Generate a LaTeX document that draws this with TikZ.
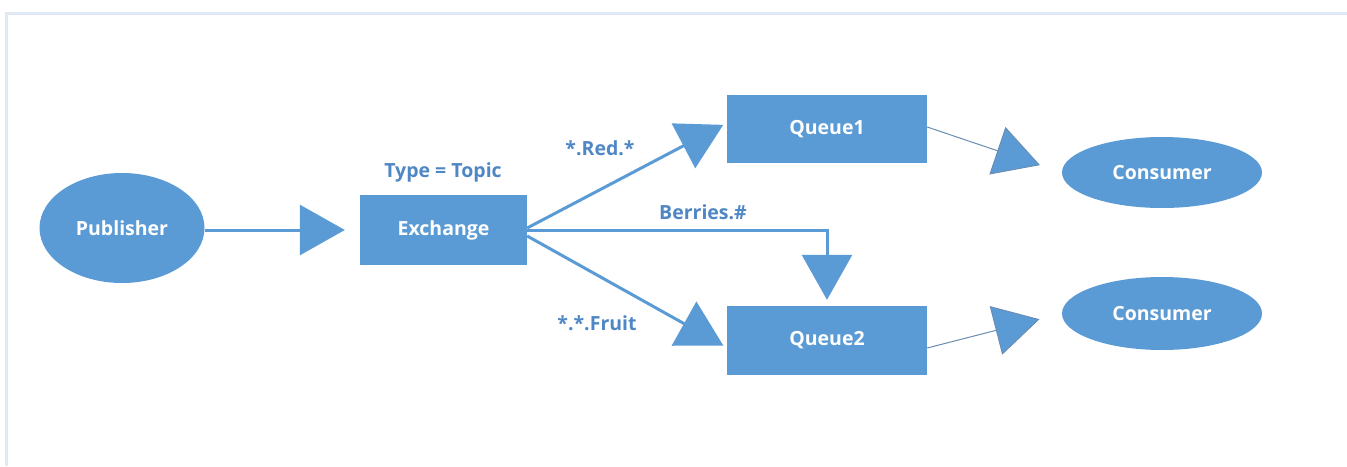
\documentclass[tikz,border=0pt]{standalone}
\usepackage{fontspec}
\setmainfont{Open Sans}
\usetikzlibrary{arrows.meta,shapes.geometric}
\definecolor{boxblue}{HTML}{5B9BD5}
\definecolor{labelblue}{HTML}{4F87C5}
\definecolor{thinline}{HTML}{6A8DB4}
\definecolor{framecol}{HTML}{DFE8F3}
\begin{document}
\begin{tikzpicture}[x=1pt,y=-1pt,
  every node/.style={font=\bfseries\fontsize{19.5}{23}\selectfont},
  ell/.style={ellipse,fill=boxblue,draw=none,text=white,inner sep=0pt},
  box/.style={rectangle,fill=boxblue,draw=none,text=white,inner sep=0pt},
  lbl/.style={text=labelblue},
  bighead/.style={-{Triangle[length=45pt,width=50pt,fill=boxblue]}},
  thick link/.style={draw=boxblue,line width=3pt,bighead},
  thin link/.style={draw=thinline,line width=1pt,bighead}]
\useasboundingbox (0,0) rectangle (1347,466);
\fill[white] (0,0) rectangle (1347,466);
% page frame
\draw[framecol,line width=3pt] (1347,13) -- (6,13) -- (6,466);

% shapes
\node[ell,minimum width=165pt,minimum height=110pt] (pub) at (122,228) {Publisher};
\node[box,minimum width=167pt,minimum height=70pt] (ex) at (443.5,230) {Exchange};
\node[box,minimum width=200pt,minimum height=68pt] (q1) at (827,129) {Queue1};
\node[box,minimum width=200pt,minimum height=69pt] (q2) at (827,340.5) {Queue2};
\node[ell,minimum width=200pt,minimum height=71pt] (c1) at (1162,172.5) {Consumer};
\node[ell,minimum width=200pt,minimum height=73pt] (c2) at (1162,313.5) {Consumer};

% labels
\node[lbl] (type) at (443,172) {Type = Topic};
\node[lbl] (red) at (600,148) {*.Red.*};
\node[lbl] (berries) at (703,212) {Berries.\#};
\node[lbl] (fruit) at (597,323) {*.*.Fruit};

% connectors
\draw[thick link,shorten >=15pt] (pub.east |- ex.west) -- (ex.west);
\draw[thick link,shorten >=4pt] ([yshift=2pt]ex.east) -- ([yshift=6pt]q1.west);
\draw[thick link,shorten >=4pt] ([yshift=-6pt]ex.east) -- ([yshift=-7pt]q2.west);
\draw[thick link,shorten >=6pt] (ex.east) -| (q2.north);
\draw[thin link,shorten >=23pt] ([yshift=2pt]q1.east) -- (c1.west);
\draw[thin link,shorten >=23pt] ([yshift=-7.5pt]q2.east) -- (c2.west);
\end{tikzpicture}
\end{document}
